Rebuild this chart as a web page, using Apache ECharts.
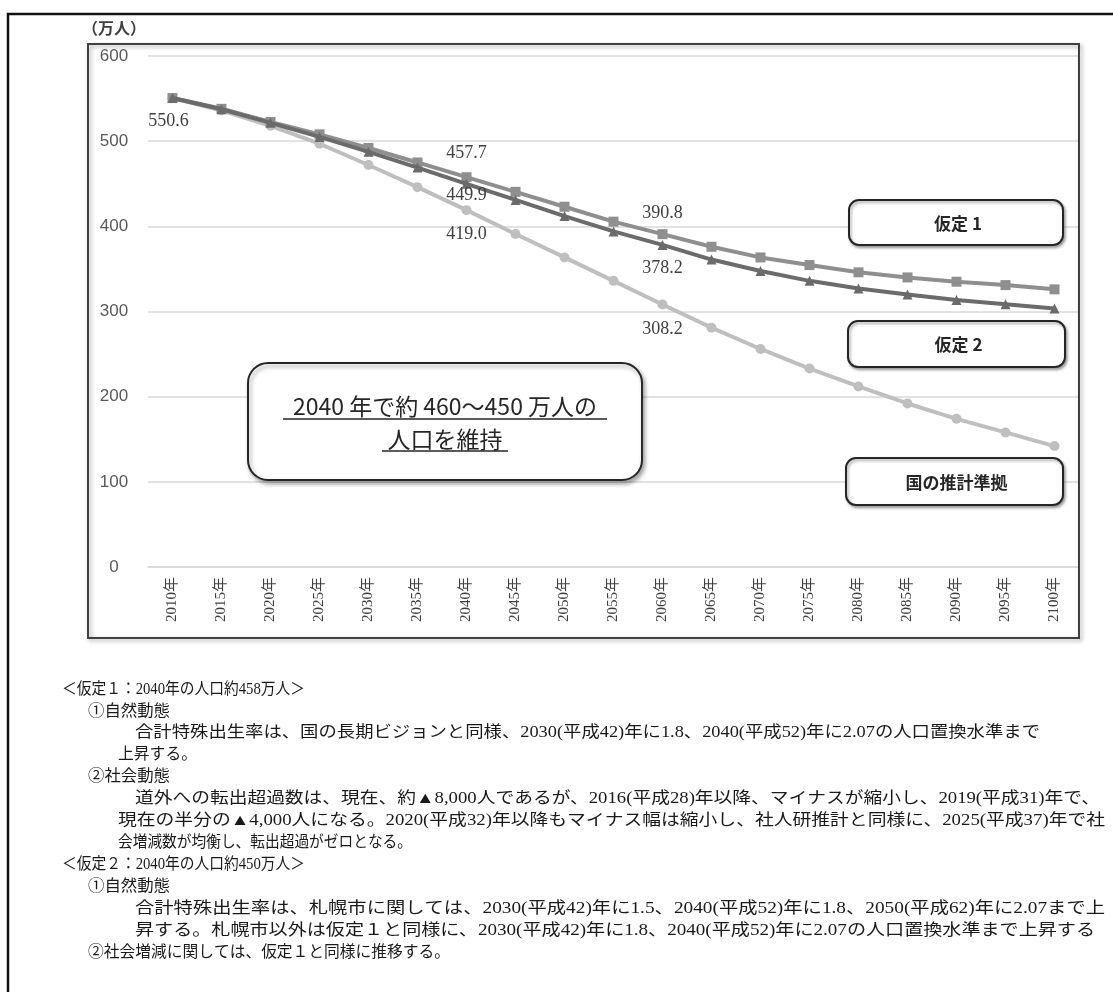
<!DOCTYPE html>
<html>
<head>
<meta charset="utf-8">
<script src="https://cdn.jsdelivr.net/npm/echarts@6/dist/echarts.min.js"></script>
<style>
html,body{margin:0;padding:0;background:#fff;}
#chart{width:1113px;height:992px;}
</style>
</head>
<body>
<div id="chart"></div>
<script>
// ---- data ----
const years = ['2010年','2015年','2020年','2025年','2030年','2035年','2040年','2045年','2050年','2055年','2060年','2065年','2070年','2075年','2080年','2085年','2090年','2095年','2100年'];
const assumption1 = [550.6, 538.0, 522.5, 508.0, 492.0, 475.0, 457.7, 440.5, 423.0, 405.5, 390.8, 376.0, 363.5, 354.5, 346.0, 340.0, 335.0, 331.0, 326.0];
const assumption2 = [550.6, 537.5, 521.5, 505.0, 487.5, 469.0, 449.9, 431.0, 412.0, 394.0, 378.2, 361.0, 347.5, 336.0, 327.0, 320.0, 313.5, 308.5, 303.5];
const national    = [550.6, 536.0, 518.0, 497.0, 472.0, 446.0, 419.0, 391.0, 363.5, 336.0, 308.2, 281.0, 256.0, 233.0, 212.0, 192.0, 174.0, 158.0, 142.0];
const seriesNames = ['国の推計準拠', '仮定1', '仮定2'];
const yMin = 0, yMax = 600, yStep = 100;
const unitLabel = '（万人）';
const calloutLines = ['2040 年で約 460～450 万人の', '人口を維持'];
const legendLabels = ['仮定 1', '仮定 2', '国の推計準拠'];
const noteLines = [
  '＜仮定１：2040年の人口約458万人＞',
  '①自然動態',
  '合計特殊出生率は、国の長期ビジョンと同様、2030(平成42)年に1.8、2040(平成52)年に2.07の人口置換水準まで',
  '上昇する。',
  '②社会動態',
  '道外への転出超過数は、現在、約▲8,000人であるが、2016(平成28)年以降、マイナスが縮小し、2019(平成31)年で、',
  '現在の半分の▲4,000人になる。2020(平成32)年以降もマイナス幅は縮小し、社人研推計と同様に、2025(平成37)年で社',
  '会増減数が均衡し、転出超過がゼロとなる。',
  '＜仮定２：2040年の人口約450万人＞',
  '①自然動態',
  '合計特殊出生率は、札幌市に関しては、2030(平成42)年に1.5、2040(平成52)年に1.8、2050(平成62)年に2.07まで上',
  '昇する。札幌市以外は仮定１と同様に、2030(平成42)年に1.8、2040(平成52)年に2.07の人口置換水準まで上昇する',
  '②社会増減に関しては、仮定１と同様に推移する。'
];

// ---- layout (positions / styles only) ----
const noteLayout = [ // [left x, right x, y]
  [62, 305, 690], [88, 170, 712], [135, 1040, 733], [118, 197, 755], [88, 170, 777],
  [135, 1100, 799], [118, 1105, 821], [118, 412, 843], [62, 305, 865], [88, 170, 887],
  [135, 1105, 909], [135, 1095, 931], [88, 450, 953]
];
// value-label offsets: index -> [dx, dy]
const lblNat = {6: [0, 24], 10: [0, 25]};
const lbl1 = {0: [-4, 23], 6: [0, -24], 10: [0, -21]};
const lbl2 = {6: [0, 11], 10: [0, 23]};

const valueLabelStyle = {fontFamily: '"Liberation Serif", serif', fontSize: 18, color: '#404040'};

function withLabels(values, offs) {
  return values.map((v, i) => {
    if (offs[i]) {
      return {value: v, label: Object.assign({show: true, position: 'inside', offset: offs[i], formatter: (p) => p.value.toFixed(1)}, valueLabelStyle)};
    }
    return v;
  });
}

const NOTE_FONT = '16px "Liberation Serif", "Noto Sans CJK JP", serif';
const measureCtx = document.createElement('canvas').getContext('2d');
measureCtx.font = NOTE_FONT;

const graphics = [];
// outer frame
graphics.push({type: 'polyline', silent: true, shape: {points: [[8, 992], [8, 14], [1113, 14]]}, style: {stroke: '#111', lineWidth: 2.5, fill: null}});
// chart box
graphics.push({type: 'rect', silent: true, z: 1, shape: {x: 88, y: 44, width: 991, height: 594}, style: {stroke: '#404040', lineWidth: 2, fill: null, shadowBlur: 4, shadowOffsetX: 2, shadowOffsetY: 2, shadowColor: 'rgba(0,0,0,0.35)'}});
// unit
graphics.push({type: 'text', x: 82, y: 28, style: {text: unitLabel, font: 'bold 16px "Noto Sans CJK JP", sans-serif', fill: '#404040', textAlign: 'left', align: 'left', textVerticalAlign: 'middle', verticalAlign: 'middle'}});
// callout box
const boxStyle = {stroke: '#262626', lineWidth: 2, fill: '#fff', shadowBlur: 4, shadowOffsetX: 2, shadowOffsetY: 3, shadowColor: 'rgba(0,0,0,0.35)'};
graphics.push({type: 'rect', z: 10, shape: {x: 248, y: 363, width: 394, height: 117, r: 20}, style: boxStyle});
const calloutFont = '23px "Noto Sans CJK JP", sans-serif';
graphics.push({type: 'text', z: 11, x: 445, y: 406, style: {text: calloutLines[0], font: calloutFont, fill: '#262626', textAlign: 'center', align: 'center', textVerticalAlign: 'middle', verticalAlign: 'middle'}});
graphics.push({type: 'text', z: 11, x: 445, y: 439, style: {text: calloutLines[1], font: calloutFont, fill: '#262626', textAlign: 'center', align: 'center', textVerticalAlign: 'middle', verticalAlign: 'middle'}});
graphics.push({type: 'line', z: 11, shape: {x1: 283, y1: 419, x2: 607, y2: 419}, style: {stroke: '#262626', lineWidth: 1.5}});
graphics.push({type: 'line', z: 11, shape: {x1: 382, y1: 451, x2: 508, y2: 451}, style: {stroke: '#262626', lineWidth: 1.5}});
// legend boxes
const legBoxes = [[849, 200, 214, 45], [848, 321, 217, 46], [846, 458, 217, 47]];
legBoxes.forEach((b, i) => {
  graphics.push({type: 'rect', z: 10, shape: {x: b[0], y: b[1], width: b[2], height: b[3], r: 10}, style: Object.assign({}, boxStyle, {shadowBlur: 3, shadowOffsetX: 1.5, shadowOffsetY: 2})});
  graphics.push({type: 'text', z: 11, x: b[0] + b[2] / 2 + 2, y: b[1] + b[3] / 2 + 1, style: {text: legendLabels[i], font: 'bold 17px "Noto Sans CJK JP", sans-serif', fill: '#262626', textAlign: 'center', align: 'center', textVerticalAlign: 'middle', verticalAlign: 'middle'}});
});
// notes
noteLines.forEach((t, i) => {
  const L = noteLayout[i];
  const w = measureCtx.measureText(t).width || 1;
  const sx = (L[1] - L[0]) / w;
  graphics.push({type: 'text', x: L[0], y: L[2], scaleX: sx, style: {text: t, font: NOTE_FONT, fill: '#1a1a1a', textAlign: 'left', align: 'left', textVerticalAlign: 'middle', verticalAlign: 'middle'}});
});

const option = {
  animation: false,
  backgroundColor: '#fff',
  grid: {left: 148, right: 34, top: 56, bottom: 425},
  xAxis: {
    type: 'category', data: years, boundaryGap: true,
    axisLine: {show: true, lineStyle: {color: '#d9d9d9', width: 1.5}},
    axisTick: {show: false},
    splitLine: {show: false},
    axisLabel: {interval: 0, rotate: 90, margin: 10, fontSize: 15, fontFamily: '"Liberation Serif", "Noto Sans CJK JP", serif', color: '#404040'}
  },
  yAxis: {
    type: 'value', min: yMin, max: yMax, interval: yStep,
    axisLine: {show: false}, axisTick: {show: false},
    splitLine: {lineStyle: {color: '#d9d9d9', width: 1.5}},
    axisLabel: {fontSize: 17, fontFamily: '"Liberation Sans", Arial, sans-serif', color: '#595959', align: 'center', margin: 34}
  },
  series: [
    {name: seriesNames[0], type: 'line', data: withLabels(national, lblNat), symbol: 'circle', symbolSize: 10,
     itemStyle: {color: '#bfbfbf'}, lineStyle: {color: '#bfbfbf', width: 4}, z: 2},
    {name: seriesNames[1], type: 'line', data: withLabels(assumption1, lbl1), symbol: 'rect', symbolSize: 10,
     itemStyle: {color: '#8f8f8f'}, lineStyle: {color: '#8f8f8f', width: 4}, z: 3},
    {name: seriesNames[2], type: 'line', data: withLabels(assumption2, lbl2), symbol: 'triangle', symbolSize: 10,
     itemStyle: {color: '#6b6b6b'}, lineStyle: {color: '#6b6b6b', width: 4}, z: 4}
  ],
  graphic: {elements: graphics}
};

const chart = echarts.init(document.getElementById('chart'), null, {renderer: 'canvas'});
chart.setOption(option);
</script>
</body>
</html>
